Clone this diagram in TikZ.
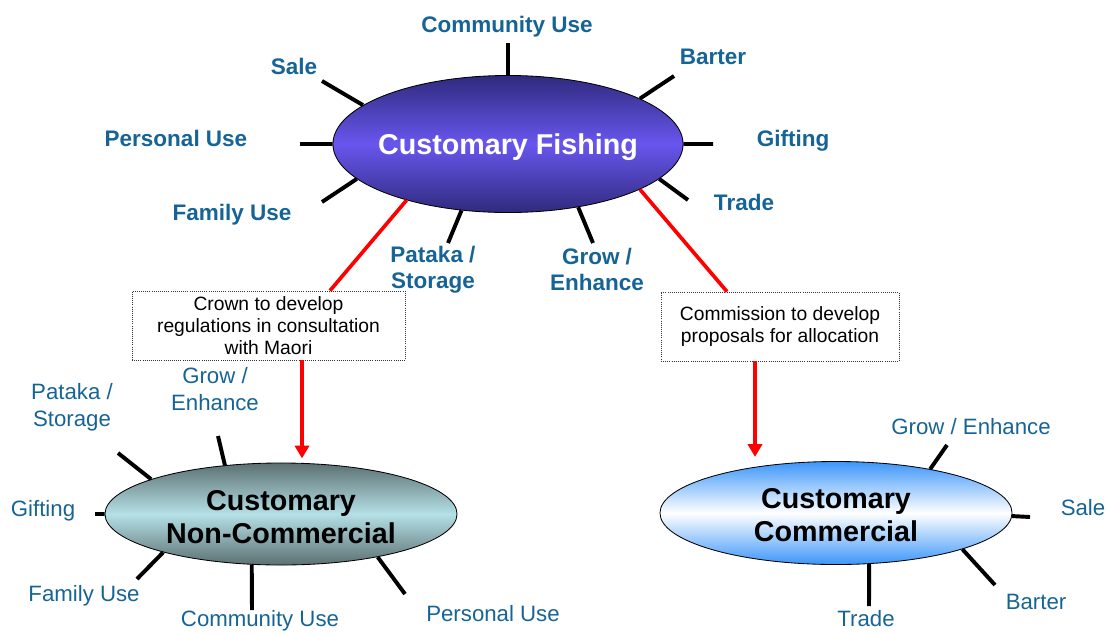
\documentclass[tikz,border=0pt]{standalone}
\usepackage{fontspec}
\setmainfont{Liberation Sans}
\usetikzlibrary{calc,arrows.meta,shapes.geometric,positioning}

\definecolor{lblue}{RGB}{22,100,150}
\definecolor{fishdark}{RGB}{48,42,125}
\definecolor{fishmid}{RGB}{104,86,238}
\definecolor{ncdark}{RGB}{92,112,114}
\definecolor{ncmid}{RGB}{180,224,230}
\definecolor{cblue}{RGB}{60,150,250}

\begin{document}
\begin{tikzpicture} [x=0.025cm,y=-0.025cm,{spoke/.style={line width=2.8pt,black}},{redline/.style={line width=2.6pt,red}},{redarrow/.style={line width=2.8pt,red,-{Triangle[length=9pt,width=10pt]},shorten >=3pt}},{hub/.style={ellipse,draw=black,line width=0.6pt,inner sep=0pt}},{hubtxt/.style={align=center,font=\fontsize{20.4}{22.8}\selectfont\bfseries}},{bold/.style={text=lblue,align=center,font=\fontsize{16}{18.5}\selectfont\bfseries}},{plain/.style={text=lblue,align=center,font=\fontsize{15.8}{19.5}\selectfont}},{note/.style={rectangle,draw=black!80,densely dotted,line width=0.5pt,inner sep=0pt,align=center,font=\fontsize{13.7}{15.6}\selectfont}}]
	\useasboundingbox (0,0) rectangle (1110,633);
	%%ellipses
	\node[hub,minimum width=8.75cm,minimum height=3.425cm,top color=fishdark,bottom color=fishdark,middle color=fishmid] (fish) at (508,144) {};
	\node[hubtxt,text=white,yshift=-2.2pt] (fishtxt) at (fish) {Customary Fishing};
	\node[hub,minimum width=8.8cm,minimum height=2.55cm,top color=ncdark,bottom color=ncdark,middle color=ncmid] (noncom) at (281,514) {};
	\node[hubtxt,yshift=-2.2pt] (noncomtxt) at (noncom) {Customary\\Non-Commercial};
	\node[hub,minimum width=8.8cm,minimum height=2.575cm,top color=cblue,bottom color=cblue,middle color=white] (comm) at (836,513) {};
	\node[hubtxt,yshift=-1.5pt] (commtxt) at (comm) {Customary\\Commercial};

	%%boxes
	\node[note,minimum width=6.825cm,minimum height=1.725cm] (crown) at (268.5,325.5) {Crown to develop\\regulations in consultation\\with Maori};
	\node[note,minimum width=5.95cm,minimum height=1.725cm] (commis) at (780,326.5) {Commission to develop\\proposals for allocation};

	%%spoke ends, Customary Fishing
	\coordinate (fcom) at (508,43);
	\coordinate (fbar) at (674,76);
	\coordinate (fgif) at (713,144);
	\coordinate (ftra) at (688,200);
	\coordinate (fgro) at (593,243);
	\coordinate (fpat) at (448,243);
	\coordinate (ffam) at (322,202);
	\coordinate (fper) at (300,144);
	\coordinate (fsal) at (322,81);
	\draw [spoke] (fish.90)--(fcom) (fish.19.9)--(fbar) (fish.0)--(fgif) (fish.-13.9)--(ftra) (fish.-42.4)--(fgro) (fish.235.7)--(fpat) (fish.193.7)--(ffam) (fish.180)--(fper) (fish.165.2)--(fsal);

	%%spoke ends, Non-Commercial
	\coordinate (npat) at (118,453);
	\coordinate (ngro) at (218,436);
	\coordinate (ngif) at (95,514);
	\coordinate (nfam) at (137,579);
	\coordinate (ncom) at (252,610);
	\coordinate (nper) at (405,594);
	\draw [spoke] (noncom.165.2)--(npat) (noncom.139.8)--(ngro) (noncom.180)--(ngif) (noncom.198.1)--(nfam) (noncom.240.4)--(ncom) (noncom.-24.6)--(nper);

	%%spoke ends, Commercial
	\coordinate (cgro) at (947,445);
	\coordinate (csal) at (1030,517);
	\coordinate (cbar) at (995,585);
	\coordinate (ctra) at (869,606);
	\draw [spoke] (comm.25.6)--(cgro) (comm.-1.3)--(csal) (comm.-16.4)--(cbar) (comm.-57.6)--(ctra);

	%%red links
	\draw [redline] (fish.209)--($(crown.north)+(61.5,0)$);
	\draw [redline] (fish.-19.2)--($(commis.north)+(-53,0)$);
	\coordinate (crownout) at ($(crown.south)+(33.5,0)$);
	\coordinate (commout) at ($(commis.south)+(-25,0)$);
	\draw [redarrow] (crownout)--(crownout |- noncom.north);
	\draw [redarrow] (commout)--(commout |- comm.north);

	%%labels, Customary Fishing
	\node[bold] (lfcom) at (507,27) {Community Use};
	\node[bold] (lfbar) at (713,57) {Barter};
	\node[bold] (lfgif) at (793,141) {Gifting};
	\node[bold] (lftra) at (744,202) {Trade};
	\node[bold] (lfgro) at (597,269) {Grow /\\Enhance};
	\node[bold] (lfpat) at (433,270) {Pataka /\\Storage};
	\node[bold] (lffam) at (232,215) {Family Use};
	\node[bold] (lfper) at (176,138) {Personal Use};
	\node[bold] (lfsal) at (294,66) {Sale};

	%%labels, Non-Commercial
	\node[plain] (lnpat) at (72,407) {Pataka /\\Storage};
	\node[plain] (lngro) at (215,389) {Grow /\\Enhance};
	\node[plain] (lngif) at (43,511) {Gifting};
	\node[plain] (lnfam) at (84,596) {Family Use};
	\node[plain] (lncom) at (260,621) {Community Use};
	\node[plain] (lnper) at (493,614) {Personal Use};

	%%labels, Commercial
	\node[plain] (lcgro) at (971,427) {Grow / Enhance};
	\node[plain] (lcsal) at (1083,508) {Sale};
	\node[plain] (lcbar) at (1036,602) {Barter};
	\node[plain] (lctra) at (866,619) {Trade};
\end{tikzpicture}
\end{document}
